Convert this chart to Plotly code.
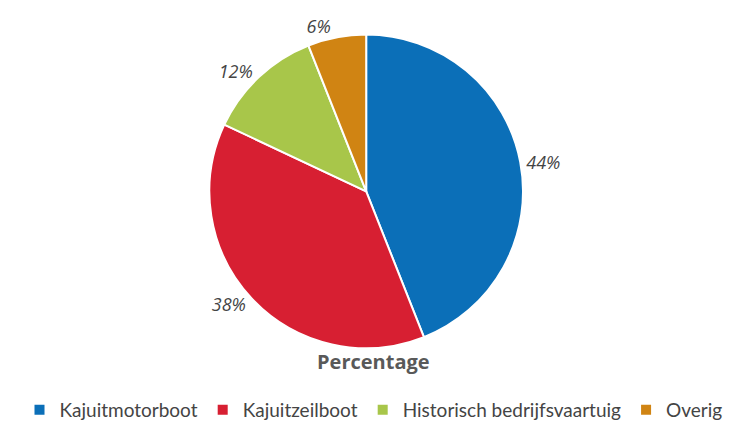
"""
    Pie chart: share per boat type
"""

import plotly.graph_objs as go

labels = ["Kajuitmotorboot", "Kajuitzeilboot", "Historisch bedrijfsvaartuig", "Overig"]
values = [44, 38, 12, 6]
colors = ["#0b6fb8", "#d71f32", "#a8c64a", "#d08413"]

data = [
    go.Pie(labels=labels, values=values, sort=False, direction="clockwise",
           marker={"colors": colors, "line": {"color": "white", "width": 2}},
           textposition="outside", texttemplate="%{value}%", automargin=False,
           textfont={"family": "Open Sans", "size": 18, "color": "#444444",
                     "style": "italic"},
           domain={"x": [0, 0.98], "y": [0.192, 0.937]},
           hoverinfo="label+percent")
]

layout = go.Layout(
    width=731, height=421,
    margin={"l": 0, "r": 0, "t": 0, "b": 0},
    paper_bgcolor="white", plot_bgcolor="white",
    font={"family": "Lato", "color": "#444444"},
    legend={"orientation": "h", "x": 0.5, "xanchor": "center", "y": 0.0,
            "yanchor": "bottom", "itemwidth": 30, "bgcolor": "rgba(0,0,0,0)",
            "font": {"family": "Lato", "size": 19, "color": "#444444"}},
    annotations=[{"text": "<b>Percentage</b>", "x": 0.5, "y": 0.1225,
                  "xref": "paper", "yref": "paper", "showarrow": False,
                  "font": {"family": "Open Sans", "size": 20, "color": "#595959"}}],
)

fig = go.Figure(data=data, layout=layout)
fig.write_html("out.html")
